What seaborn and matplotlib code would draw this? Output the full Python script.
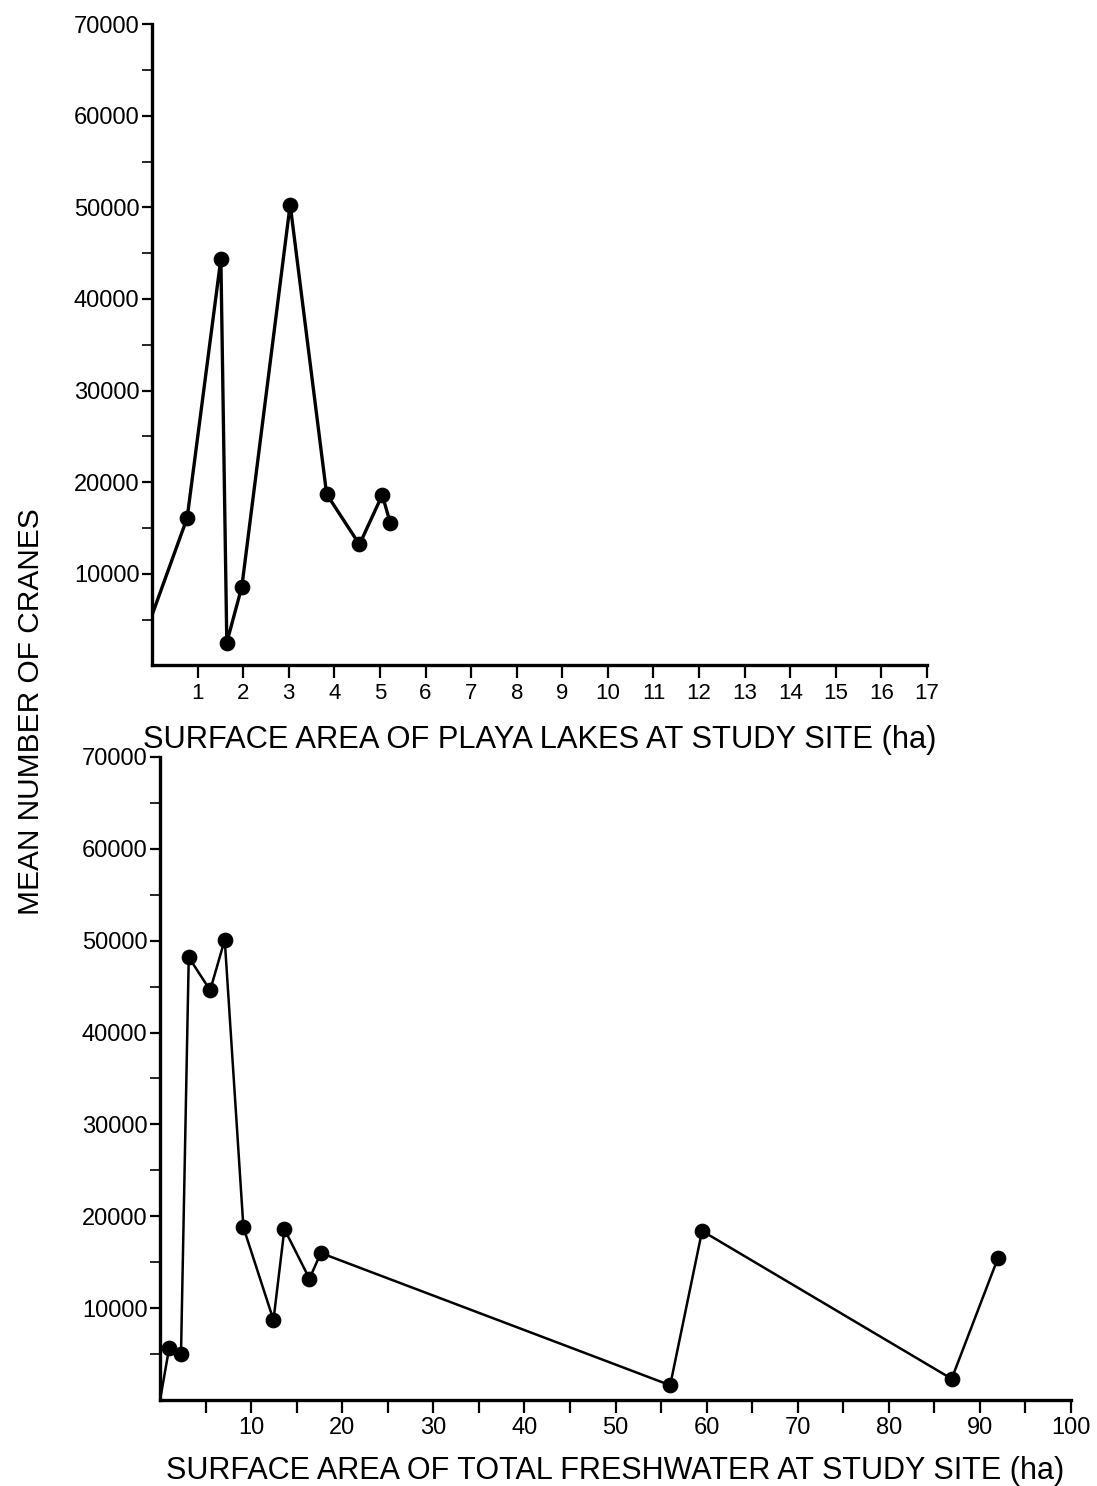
import numpy as np
import pandas as pd
import matplotlib
matplotlib.use("Agg")
import matplotlib.pyplot as plt
import seaborn as sns
from matplotlib.ticker import FixedLocator

# data
playa_area = [0.0, 0.77, 1.51, 1.64, 1.97, 3.03, 3.83, 4.55, 5.05, 5.23]
playa_cranes = [5500, 16100, 44400, 2500, 8600, 50300, 18700, 13200, 18600, 15500]

fresh_area = [0.0, 1.0, 2.3, 3.15, 5.5, 7.1, 9.15, 12.45, 13.65, 16.4, 17.65, 56.0, 59.5, 86.9, 92.0]
fresh_cranes = [0, 5650, 5000, 48200, 44600, 50100, 18800, 8700, 18600, 13200, 16000, 1600, 18400, 2300, 15500]

df_playa = pd.DataFrame({"area": playa_area, "cranes": playa_cranes})
df_fresh = pd.DataFrame({"area": fresh_area, "cranes": fresh_cranes})

sns.set_style("ticks", {"axes.edgecolor": "black", "xtick.color": "black",
                        "ytick.color": "black", "text.color": "black",
                        "axes.labelcolor": "black"})
plt.rcParams["font.family"] = ["Liberation Sans", "DejaVu Sans"]

fig = plt.figure(figsize=(10.97, 14.86), dpi=100)
ax1 = fig.add_axes([0.1386, 0.5522, 0.7064, 0.4316])
ax2 = fig.add_axes([0.1459, 0.0579, 0.8304, 0.4327])

for ax, df, lw in [(ax1, df_playa, 2.4), (ax2, df_fresh, 1.8)]:
    sns.lineplot(data=df, x="area", y="cranes", sort=False, estimator=None,
                 color="black", linewidth=lw, ax=ax)
    sns.scatterplot(data=df.iloc[1:], x="area", y="cranes", color="black",
                    s=110, edgecolor="black", zorder=5, ax=ax)
    ax.set_ylim(0, 70000)
    ax.set_yticks(np.arange(10000, 70001, 10000))
    ax.set_yticklabels([str(v) for v in range(10000, 70001, 10000)], fontsize=17)
    ax.yaxis.set_minor_locator(FixedLocator(np.arange(5000, 70000, 10000)))
    ax.tick_params(axis="y", which="major", length=7, width=1.6, pad=2)
    ax.tick_params(axis="y", which="minor", length=7, width=1.2)
    ax.tick_params(axis="x", which="both", length=9, width=1.6)
    for s in ["top", "right"]:
        ax.spines[s].set_visible(False)
    ax.spines["left"].set_linewidth(2.4)
    ax.spines["bottom"].set_linewidth(2.4)
    ax.set_ylabel("")

ax1.set_xlim(0, 17)
ax1.set_xticks(range(1, 18))
ax1.set_xticklabels([str(i) for i in range(1, 18)], fontsize=16)
ax1.set_xlabel("SURFACE AREA OF PLAYA LAKES AT STUDY SITE (ha)",
               fontsize=22.2, labelpad=15)

ax2.set_xlim(0, 100)
ax2.set_xticks(range(10, 101, 10))
ax2.set_xticklabels([str(i) for i in range(10, 101, 10)], fontsize=17)
ax2.xaxis.set_minor_locator(FixedLocator(np.arange(5, 100, 10)))
ax2.set_xlabel("SURFACE AREA OF TOTAL FRESHWATER AT STUDY SITE (ha)",
               fontsize=22, labelpad=12)

fig.text(0.028, 0.521, "MEAN NUMBER OF CRANES", rotation=90, fontsize=21.5,
         ha="center", va="center")

fig.savefig("out.png", dpi=100, facecolor="white")
